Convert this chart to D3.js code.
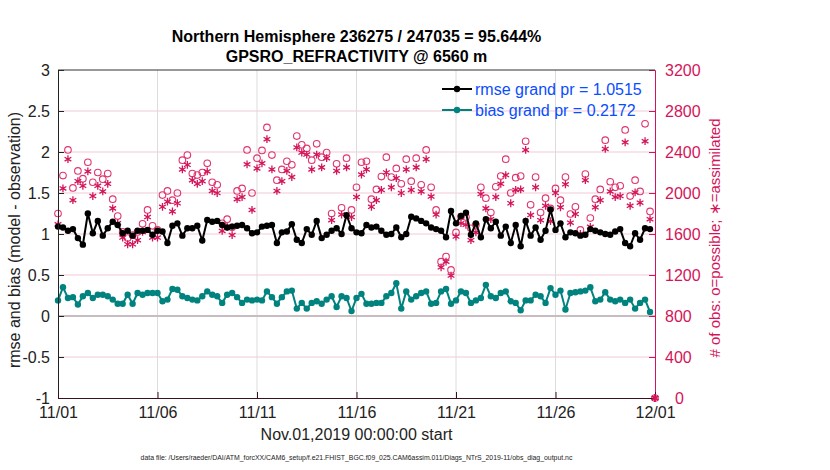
<!doctype html>
<html>
<head>
    <title>obs_diag :: GPSRO refractivity</title>
    <meta charset="utf-8">
    <script src="https://d3js.org/d3.v7.min.js"></script>
    <style>
        body { margin: 0; background: #fff; }
        svg { display: block; font-family: Helvetica, Arial, "Liberation Sans", sans-serif; }
    </style>
</head>
<body>
<div id="viz"><svg width="830" height="470"></svg></div>
<script>
    // 6-hourly bins, 11/01 00Z .. 12/01 00Z
    let rmse = [1.09,1.08,1.04,1.06,0.95,0.87,1.25,1.01,1.16,0.98,1.07,1.15,1.11,1.01,1.04,0.98,1.04,1.04,1.05,0.99,1.04,
        1.03,0.89,1.10,1.13,0.98,1.07,1.07,1.10,0.92,1.17,1.15,1.16,1.11,1.08,1.09,1.10,1.11,1.07,1.01,1.02,
        1.09,1.10,1.11,0.89,1.02,1.03,1.12,0.93,0.89,1.06,0.99,1.16,0.95,0.99,1.04,1.07,1.00,1.23,1.07,1.02,
        1.01,1.11,1.08,1.09,1.04,0.99,1.00,1.08,0.96,1.00,1.21,1.19,1.16,1.13,1.08,1.06,1.04,0.96,1.28,1.13,
        1.22,1.26,0.99,1.13,0.96,1.18,1.07,1.15,0.98,1.09,0.89,1.11,0.85,1.16,0.98,1.08,0.93,1.04,1.30,1.05,
        1.13,0.96,1.02,1.01,0.98,0.99,1.06,1.04,1.02,1.00,0.99,1.03,1.06,0.89,0.85,1.01,0.93,1.07,1.06,null];
    let bias = [0.19,0.35,0.22,0.23,0.14,0.24,0.28,0.22,0.26,0.26,0.24,0.20,0.15,0.15,0.26,0.15,0.28,0.26,0.28,0.28,0.28,
        0.18,0.20,0.33,0.32,0.24,0.22,0.20,0.19,0.24,0.30,0.26,0.24,0.16,0.26,0.28,0.23,0.16,0.20,0.19,0.20,
        0.19,0.30,0.23,0.15,0.23,0.30,0.31,0.09,0.16,0.09,0.16,0.18,0.15,0.20,0.24,0.11,0.24,0.22,0.06,0.22,
        0.27,0.15,0.15,0.16,0.16,0.24,0.28,0.40,0.09,0.30,0.20,0.24,0.28,0.30,0.15,0.16,0.30,0.33,0.15,0.19,
        0.30,0.28,0.16,0.19,0.22,0.38,0.24,0.22,0.28,0.30,0.18,0.16,0.07,0.19,0.19,0.26,0.24,0.16,0.34,0.26,
        0.31,0.08,0.28,0.29,0.30,0.31,0.35,0.18,0.20,0.29,0.20,0.18,0.20,0.16,0.20,0.09,0.16,0.20,0.05,null];
    let possible = [1800,2170,2420,2050,2215,2140,2300,2105,2200,2135,2190,1940,1775,1620,1560,1590,1620,1700,1835,1680,1640,
        1980,2020,1930,2000,2320,2370,2190,2175,2200,2290,2105,2080,1705,1745,1665,2020,2045,2420,2000,2340,
        2415,2640,2370,2125,2230,2310,2275,2555,2470,2435,2320,2480,2350,2395,1800,2285,1855,2340,1835,2055,
        2300,2310,1940,2035,2160,2350,2155,2240,2090,2330,2115,2340,2080,2420,2055,1835,1330,1380,1250,1615,
        1770,1765,1655,1690,2055,1950,1810,2060,2165,2330,2000,2150,2165,2505,1885,2155,1810,1950,1850,2045,
        1930,2155,1795,1865,1640,2185,1755,1940,2035,2515,2110,2055,2070,2615,1970,2125,2015,2675,1820,0];
    let assimilated = [1695,2045,2330,1930,2115,2070,2210,1970,2070,2015,2090,1850,1705,1565,1500,1500,1540,1620,1765,1565,1565,
        1865,1915,1820,1900,2230,2275,2125,2090,2115,2210,2020,2000,1630,1670,1590,1940,1960,2280,1835,2240,
        2290,2525,2230,2020,2115,2215,2155,2445,2395,2375,2230,2375,2250,2340,1735,2215,1790,2250,1765,1960,
        2180,2230,1865,1930,2030,2200,2055,2145,2000,2230,2030,2250,2015,2330,1965,1790,1275,1330,1195,1575,
        1705,1690,1540,1615,1990,1850,1745,1960,2090,2175,1900,2030,2035,2420,1785,2055,1735,1875,1725,2000,
        1860,2085,1710,1795,1600,2125,1670,1860,1930,2430,2015,1960,1970,2495,1875,2005,1905,2505,1745,0];
    let leftTicks = [-1,-0.5,0,0.5,1,1.5,2,2.5,3];
    let rightTicks = [0,400,800,1200,1600,2000,2400,2800,3200];
    let dayTicks = ["11/01","11/06","11/11","11/16","11/21","11/26","12/01"];
    let titleLines = ["Northern Hemisphere 236275 / 247035 = 95.644%", "GPSRO_REFRACTIVITY @ 6560 m"];
    let legendLabels = ["rmse grand pr = 1.0515", "bias grand pr = 0.2172"];

    var parseDay = d3.utcParse("%Y/%m/%d");
    var t0 = parseDay("2019/11/01");
    var times = rmse.map((d, i) => new Date(t0.getTime() + i * 6 * 3600 * 1000));
    var tickDates = dayTicks.map(s => parseDay("2019/" + s));

    var L = 58, R = 655, T = 70, B = 398;
    var crimson = "#d4145a";
    var teal = "#00837e";

    var x = d3.scaleUtc().domain([t0, parseDay("2019/12/01")]).range([L, R]);
    var y = d3.scaleLinear().domain([-1, 3]).range([B, T]);
    var yR = d3.scaleLinear().domain([0, 3200]).range([B, T]);

    var svg = d3.select("svg");

    // grid
    svg.append("g").selectAll("line").data(rightTicks.slice(1, -1)).enter().append("line")
        .attr("x1", L).attr("x2", R).attr("y1", d => yR(d)).attr("y2", d => yR(d))
        .style("stroke", "#f2c9d8").style("stroke-width", 1);
    svg.append("g").selectAll("line").data(tickDates.slice(1, -1)).enter().append("line")
        .attr("x1", d => x(d)).attr("x2", d => x(d)).attr("y1", T).attr("y2", B)
        .style("stroke", "#dcdcdc").style("stroke-width", 1);
    // zero line
    svg.append("line").attr("x1", L).attr("x2", R).attr("y1", y(0)).attr("y2", y(0))
        .style("stroke", "#c8bcc0").style("stroke-width", 2);

    // counts
    svg.append("g").selectAll("circle").data(possible).enter().append("circle")
        .attr("cx", (d, i) => x(times[i])).attr("cy", d => yR(d)).attr("r", 3.3)
        .style("fill", "none").style("stroke", "#e0356e").style("stroke-width", 1.1);
    var star = d3.symbol().type(d3.symbolAsterisk).size(42);
    svg.append("g").selectAll("path").data(assimilated).enter().append("path")
        .attr("d", star)
        .attr("transform", (d, i) => "translate(" + x(times[i]) + "," + yR(d) + ")")
        .style("fill", "none").style("stroke", crimson).style("stroke-width", 1.3);

    // rmse and bias
    function drawSeries(vals, color) {
        var pts = vals.map((v, i) => [times[i], v]).filter(p => p[1] !== null);
        var line = d3.line().x(p => x(p[0])).y(p => y(p[1]));
        svg.append("path").datum(pts).attr("d", line)
            .style("fill", "none").style("stroke", color).style("stroke-width", 2);
        svg.append("g").selectAll("circle").data(pts).enter().append("circle")
            .attr("cx", p => x(p[0])).attr("cy", p => y(p[1])).attr("r", 3.2)
            .style("fill", color);
    }
    drawSeries(rmse, "#000");
    drawSeries(bias, teal);

    // axes
    var fmtL = d3.format("~g");
    var axL = d3.axisLeft(y).tickValues(leftTicks).tickSize(-6).tickPadding(8)
        .tickFormat(d => fmtL(d).replace("\u2212", "-"));
    var gL = svg.append("g").attr("transform", "translate(" + L + ",0)").call(axL);
    gL.selectAll("text").style("font-size", "16px").style("fill", "#222");
    gL.selectAll("line, path").style("stroke", "#222");

    var axR = d3.axisRight(yR).tickValues(rightTicks).tickSize(-6).tickPadding(10)
        .tickFormat(d3.format("d"));
    var gR = svg.append("g").attr("transform", "translate(" + R + ",0)").call(axR);
    gR.selectAll("text").style("font-size", "16px").style("fill", crimson)
        .attr("dx", d => d === 0 ? 10 : 0);
    gR.selectAll("line, path").style("stroke", crimson);

    var axB = d3.axisBottom(x).tickValues(tickDates).tickSize(-6).tickPadding(9)
        .tickFormat((d, i) => dayTicks[i]);
    var gB = svg.append("g").attr("transform", "translate(0," + B + ")").call(axB);
    gB.selectAll("text").style("font-size", "16px").style("fill", "#222");
    gB.selectAll("line, path").style("stroke", "#3a1020");

    svg.append("line").attr("x1", L).attr("x2", R).attr("y1", T).attr("y2", T)
        .style("stroke", "#333").style("stroke-width", 1);

    // end point of counts sits on the corner
    svg.append("path").attr("d", star)
        .attr("transform", "translate(" + x(times[120]) + "," + yR(0) + ")")
        .style("fill", "none").style("stroke", crimson).style("stroke-width", 1.6);

    // titles
    svg.append("g").selectAll("text").data(titleLines).enter().append("text")
        .attr("x", (L + R) / 2).attr("y", (d, i) => 42 + i * 20)
        .attr("text-anchor", "middle").style("font-weight", "bold").style("font-size", "16px")
        .text(d => d);

    svg.append("text").attr("transform", "translate(20,240) rotate(-90)")
        .attr("text-anchor", "middle").style("font-size", "16px").style("fill", "#222")
        .text("rmse and bias (model - observation)");
    svg.append("text").attr("transform", "translate(720,238) rotate(-90)")
        .attr("text-anchor", "middle").style("font-size", "15px").style("fill", crimson)
        .text("# of obs: o=possible; \u2217=assimilated");

    svg.append("text").attr("x", (L + R) / 2).attr("y", 440).attr("text-anchor", "middle")
        .style("font-size", "16px").style("fill", "#222").text("Nov.01,2019 00:00:00 start");
    svg.append("text").attr("x", (L + R) / 2).attr("y", 460).attr("text-anchor", "middle")
        .style("font-size", "6.9px").style("fill", "#222")
        .text("data file: /Users/raeder/DAI/ATM_forcXX/CAM6_setup/f.e21.FHIST_BGC.f09_025.CAM6assim.011/Diags_NTrS_2019-11/obs_diag_output.nc");

    // legend
    var leg = svg.append("g").selectAll("g").data(legendLabels).enter().append("g")
        .attr("transform", (d, i) => "translate(442," + (89 + i * 21) + ")");
    leg.append("line").attr("x1", 0).attr("x2", 30)
        .style("stroke", (d, i) => i ? teal : "#000").style("stroke-width", 2);
    leg.append("circle").attr("cx", 15).attr("r", 3.2).style("fill", (d, i) => i ? teal : "#000");
    leg.append("text").attr("x", 33).attr("y", 6).style("font-size", "16px").style("fill", "#0a4dff")
        .text(d => d);
</script>
</body>
</html>
